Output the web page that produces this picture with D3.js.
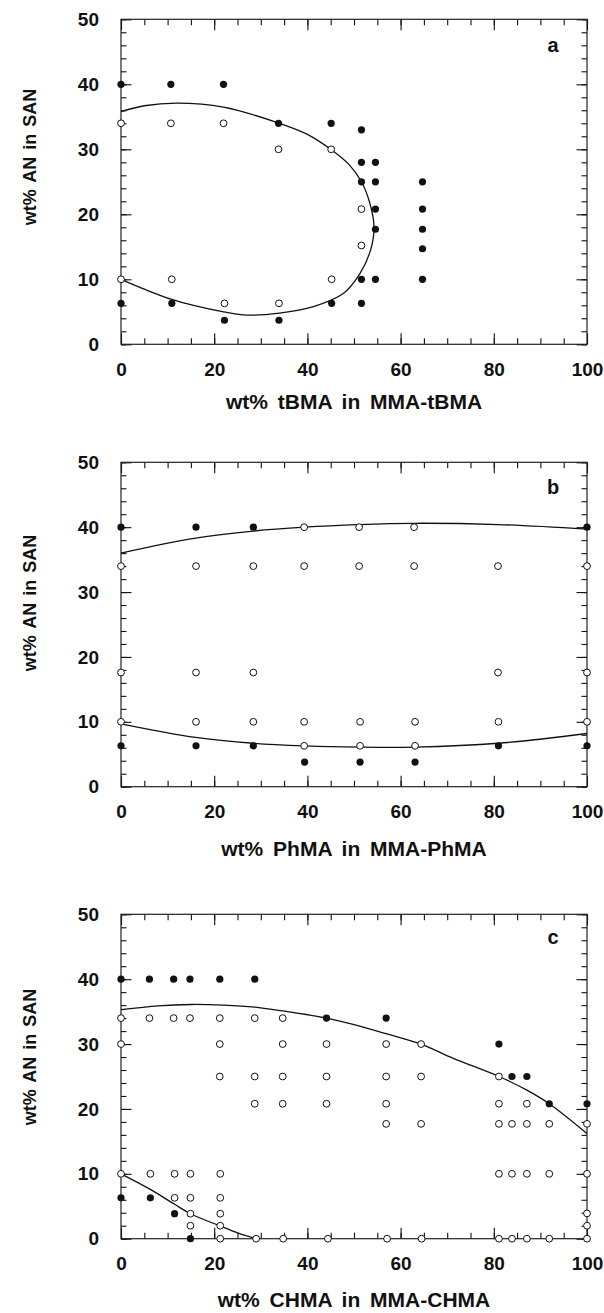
<!DOCTYPE html>
<html>
<head>
<meta charset="utf-8">
<script src="https://cdn.jsdelivr.net/npm/d3@7"></script>
<style>
  html, body { margin: 0; padding: 0; background: #fff; }
  svg { display: block; }
  text { font-family: "Liberation Sans", Arial, Helvetica, sans-serif; font-weight: bold; fill: #111; }
</style>
</head>
<body>
<svg id="chart" width="604" height="1313"></svg>
<script>
// ---------------- DATA ----------------
const yTickValues = [0, 10, 20, 30, 40, 50];
const xTickValues = [0, 20, 40, 60, 80, 100];
const yAxisTitle = "wt% AN in SAN";
const panelLetters = ["a", "b", "c"];
const xAxisTitles = ["wt% tBMA in MMA-tBMA", "wt% PhMA in MMA-PhMA", "wt% CHMA in MMA-CHMA"];

// Panel a (MMA-tBMA): [wt% tBMA, wt% AN]
const aFilled = [[0,40],[10.7,40],[22,40],[33.8,34],[45.1,34],[51.6,33],[51.6,28],[54.6,28],
  [51.6,25],[54.6,25],[64.7,25],[54.6,20.8],[64.7,20.8],[54.6,17.7],[64.7,17.7],[64.7,14.7],
  [51.6,10],[54.6,10],[64.7,10],[0,6.3],[10.9,6.3],[45.2,6.3],[51.6,6.3],[22.2,3.7],[33.9,3.7]];
const aOpen = [[0,34],[10.7,34],[22,34],[33.8,30],[45.1,30],[51.6,20.8],[51.6,15.2],
  [0,10],[10.9,10],[45.2,10],[22.2,6.3],[33.9,6.3]];
const aCurve = [[0,35.8],[5,36.7],[12,37.1],[22,36.5],[34,34],[40,32.3],[45,30],[49,27.6],
  [51.6,25],[53.4,21.7],[54.3,18],[53.6,14.6],[51.3,10.9],[47.7,7.8],[41.3,5.8],[34,4.8],
  [27,4.5],[22,5],[16,5.9],[10.9,6.9],[5.3,8.4],[0,10]];

// Panel b (MMA-PhMA)
const bFilled = [[0,40],[16.1,40],[28.4,40],[100,40],[0,6.3],[16.1,6.3],[28.4,6.3],[81,6.3],
  [100,6.3],[39.4,3.8],[51.3,3.8],[63.1,3.8]];
const bOpen = [[39.3,40],[51.1,40],[62.9,40],[0,34],[16.1,34],[28.4,34],[39.3,34],[51.1,34],
  [62.9,34],[80.9,34],[100,34],[0,17.6],[16.1,17.6],[28.4,17.6],[80.9,17.6],[100,17.6],
  [0,10],[16.1,10],[28.4,10],[39.3,10],[51.3,10],[63.1,10],[81,10],[100,10],
  [39.3,6.3],[51.3,6.3],[63.1,6.3]];
const bUpper = [[0,36],[16,38.3],[28.4,39.4],[39.3,40],[51,40.4],[63,40.6],[81,40.4],[100,39.7]];
const bLower = [[0,9.7],[16,7.6],[28.4,6.7],[39.3,6.3],[51,6.1],[63,6.1],[81,6.7],[100,8.2]];

// Panel c (MMA-CHMA)
const cFilled = [[0,40],[6.1,40],[11.3,40],[14.8,40],[21.2,40],[28.7,40],[44.1,34],[56.9,34],
  [81.1,30],[83.9,25],[87.1,25],[91.9,20.8],[100,20.8],[0,6.3],[6.3,6.3],[11.5,3.85],[14.9,0]];
const cOpen = [
  [0,34],[6.1,34],[11.3,34],[14.8,34],[21.2,34],[28.7,34],[34.7,34],
  [0,30],[21.2,30],[34.7,30],[44.1,30],[56.9,30],[64.4,30],
  [21.2,25],[28.7,25],[34.7,25],[44.1,25],[56.9,25],[64.4,25],[81.1,25],
  [28.7,20.8],[34.7,20.8],[44.1,20.8],[56.9,20.8],[81.1,20.8],[87.1,20.8],
  [56.9,17.7],[64.4,17.7],[81.1,17.7],[83.9,17.7],[87.1,17.7],[91.9,17.7],[100,17.7],
  [0,10],[6.3,10],[11.5,10],[14.9,10],[21.3,10],[81.1,10],[83.9,10],[87.1,10],[91.9,10],[100,10],
  [11.5,6.3],[14.9,6.3],[21.3,6.3],
  [14.9,3.85],[21.3,3.85],[100,3.9],
  [14.9,2],[21.3,2],[100,2],
  [21.3,0],[29,0],[34.8,0],[44.4,0],[57.1,0],[64.5,0],[81.1,0],[83.9,0],[87.1,0],[91.9,0],[100,0]];
const cUpper = [[0,35.3],[8,35.9],[15,36.1],[22,36],[28.7,35.7],[34.7,35.1],[44.1,34],[50,33],
  [56.9,31.6],[64.4,30],[71.3,27.8],[81.1,25],[87.1,22.9],[91.9,20.8],[100,16.2]];
const cLower = [[0,10],[6.3,7.6],[11.5,5.3],[14.9,3.85],[21.3,1.95],[25,0.9],[29,0]];

// ---------------- LAYOUT ----------------
const svg = d3.select("#chart");
svg.append("rect").attr("width", 604).attr("height", 1313).attr("fill", "#fff");

const left = 121, right = 587;
const panels = [
  { top: 19.3, bottom: 344.3, filled: aFilled, open: aOpen, curves: [aCurve], titleY: 409, ylabY: 157, letterY: 51.5 },
  { top: 462.3, bottom: 786.7, filled: bFilled, open: bOpen, curves: [bUpper, bLower], titleY: 856, ylabY: 603, letterY: 494 },
  { top: 914.3, bottom: 1238.7, filled: cFilled, open: cOpen, curves: [cUpper, cLower], titleY: 1307, ylabY: 1057, letterY: 944 }
];

const x = d3.scaleLinear().domain([0, 100]).range([left, right]);
const line = d3.line().curve(d3.curveCatmullRom.alpha(0.5));

panels.forEach((p, i) => {
  const y = d3.scaleLinear().domain([0, 50]).range([p.bottom, p.top]);
  const g = svg.append("g");
  line.x(d => x(d[0])).y(d => y(d[1]));

  const minorX = d3.range(0, 101, 5);
  const minorY = d3.range(0, 51, 2);

  function styleAxis(sel) {
    sel.select(".domain").remove();
    sel.selectAll(".tick line").attr("stroke", "#111").attr("stroke-width", 1.1);
  }

  // minor ticks (all four sides)
  g.append("g").attr("transform", `translate(0,${p.bottom})`)
    .call(d3.axisBottom(x).tickValues(minorX).tickSize(-6).tickFormat("")).call(styleAxis);
  g.append("g").attr("transform", `translate(0,${p.top})`)
    .call(d3.axisTop(x).tickValues(minorX).tickSize(-6).tickFormat("")).call(styleAxis);
  g.append("g").attr("transform", `translate(${left},0)`)
    .call(d3.axisLeft(y).tickValues(minorY).tickSize(-5.5).tickFormat("")).call(styleAxis);
  g.append("g").attr("transform", `translate(${right},0)`)
    .call(d3.axisRight(y).tickValues(minorY).tickSize(-5.5).tickFormat("")).call(styleAxis);

  // major ticks
  const xb = g.append("g").attr("transform", `translate(0,${p.bottom})`)
    .call(d3.axisBottom(x).tickValues(xTickValues).tickSize(-11).tickPadding(18)).call(styleAxis);
  g.append("g").attr("transform", `translate(0,${p.top})`)
    .call(d3.axisTop(x).tickValues(xTickValues).tickSize(-11).tickFormat("")).call(styleAxis);
  const yl = g.append("g").attr("transform", `translate(${left},0)`)
    .call(d3.axisLeft(y).tickValues(yTickValues).tickSize(-10.5).tickPadding(22)).call(styleAxis);
  g.append("g").attr("transform", `translate(${right},0)`)
    .call(d3.axisRight(y).tickValues(yTickValues).tickSize(-10.5).tickFormat("")).call(styleAxis);

  [xb, yl].forEach(a => a.selectAll(".tick text")
    .attr("fill", "#111").style("font-size", "19px").style("font-weight", "bold")
    .style("font-family", '"Liberation Sans", Arial, sans-serif'));

  // frame
  g.append("rect").attr("x", left).attr("y", p.top)
    .attr("width", right - left).attr("height", p.bottom - p.top)
    .attr("fill", "none").attr("stroke", "#222").attr("stroke-width", 1.2);

  // curves
  p.curves.forEach(c => {
    g.append("path").datum(c).attr("d", line)
      .attr("fill", "none").attr("stroke", "#111").attr("stroke-width", 1.3);
  });

  // markers
  g.selectAll(".open").data(p.open).enter().append("circle")
    .attr("cx", d => x(d[0])).attr("cy", d => y(d[1])).attr("r", 3.4)
    .attr("fill", "#fff").attr("stroke", "#111").attr("stroke-width", 1);
  g.selectAll(".filled").data(p.filled).enter().append("circle")
    .attr("cx", d => x(d[0])).attr("cy", d => y(d[1])).attr("r", 3.6)
    .attr("fill", "#111");

  // labels
  g.append("text").attr("x", 354).attr("y", p.titleY).attr("text-anchor", "middle")
    .style("font-size", "21px").style("word-spacing", "4px").text(xAxisTitles[i]);
  g.append("text").attr("transform", `translate(36,${p.ylabY}) rotate(-90)`)
    .attr("text-anchor", "middle").style("font-size", "18px").style("word-spacing", "2px").text(yAxisTitle);
  g.append("text").attr("x", 553).attr("y", p.letterY).attr("text-anchor", "middle")
    .style("font-size", "20px").text(panelLetters[i]);
});
</script>
</body>
</html>
